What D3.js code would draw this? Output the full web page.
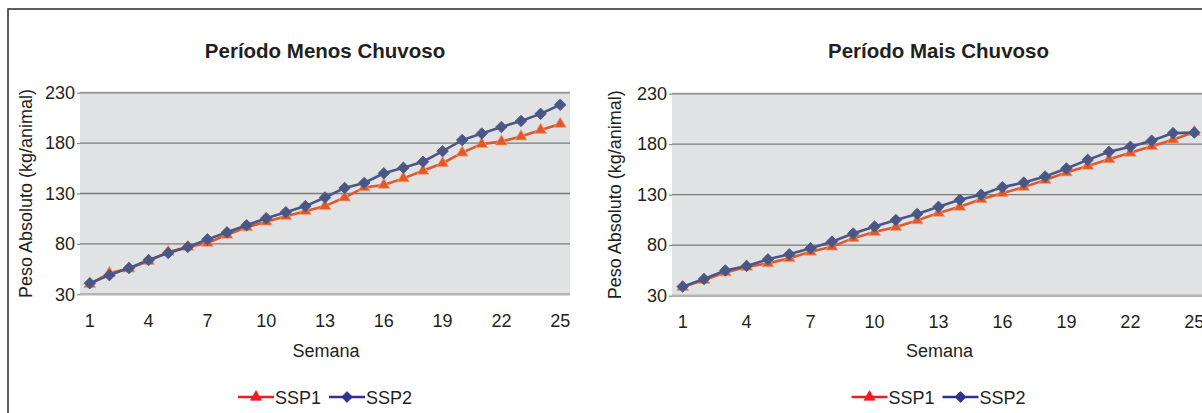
<!DOCTYPE html>
<html><head><meta charset="utf-8">
<script src="https://cdn.jsdelivr.net/npm/d3@7"></script>
<style>
html,body{margin:0;padding:0;background:#fff;}
svg{display:block;font-family:"Liberation Sans",Arial,sans-serif;}
</style></head>
<body>
<svg id="c" width="1202" height="413"></svg>
<script>
const weeks = d3.range(1, 26);
const xTickLabels = [1, 4, 7, 10, 13, 16, 19, 22, 25];
const yTicks = [30, 80, 130, 180, 230];
const seriesNames = ["SSP1", "SSP2"];
const titles = ["Período Menos Chuvoso", "Período Mais Chuvoso"];
const xTitle = "Semana";
const yTitle = "Peso Absoluto (kg/animal)";

const menosSSP1 = [40, 51, 55.5, 63, 72, 77, 81, 89, 96.5, 102, 107.5, 112.5, 117.5, 126, 136, 138.5, 145, 152.5, 160, 170.5, 179, 181.5, 186.5, 193, 199];
const menosSSP2 = [41, 49, 56, 64, 71, 77, 84.5, 91.5, 98.5, 105.5, 111.5, 117.5, 126, 135.5, 140.5, 150, 155.5, 161.5, 172, 183, 189.5, 196, 202, 209, 218];
const maisSSP1 = [38.5, 45.5, 53, 58.5, 62, 67, 73.5, 78.5, 87, 93, 98, 104.5, 112, 118, 125.5, 131.5, 137.5, 144.5, 152, 158.5, 165, 171.5, 178, 184.5, 192];
const maisSSP2 = [39, 46.5, 55, 59.5, 66, 71, 77, 83.5, 91.5, 98.5, 105, 111, 118, 125, 130, 137.5, 142, 148, 156, 164.5, 172.5, 177.5, 183.5, 191, 191.5];

const panels = [
  {title: titles[0], data: [menosSSP1, menosSSP2], x0: 80, x1: 570, y0: 92.7, y1: 294.3, ylabX: 26},
  {title: titles[1], data: [maisSSP1, maisSSP2], x0: 672, x1: 1205, y0: 93.7, y1: 295.7, ylabX: 615}
];

const plotColors = ["#e0582b", "#4a5786"];
const plotStroke = ["#f0a070", "#4a5786"];
const legendColors = ["#ed1c24", "#2e3192"];
const textColor = "#231f20";

const svg = d3.select("#c");

// outer frame
svg.append("rect").attr("x", 8).attr("y", 9).attr("width", 1230).attr("height", 430)
  .attr("fill", "none").attr("stroke", "#2b2b2b").attr("stroke-width", 1.5);

const diamond = d3.symbol().type(d3.symbolSquare).size(66);
const triangle = d3.symbol().type(d3.symbolTriangle).size(60);
const diamondL = d3.symbol().type(d3.symbolSquare).size(58);
const triangleL = d3.symbol().type(d3.symbolTriangle).size(52);

function drawMarker(g, i, color, stroke, legend) {
  if (i === 0) {
    return g.append("path").attr("d", (legend ? triangleL : triangle)()).attr("fill", color)
      .attr("stroke", stroke).attr("stroke-width", 0.8);
  } else {
    return g.append("path").attr("d", (legend ? diamondL : diamond)()).attr("transform", "rotate(45)")
      .attr("fill", color).attr("stroke", stroke).attr("stroke-width", 0.8);
  }
}

panels.forEach(p => {
  const g = svg.append("g");
  const x = d3.scaleBand().domain(weeks).range([p.x0, p.x1]);
  const y = d3.scaleLinear().domain([30, 230]).range([p.y1, p.y0]);
  const cx = d => x(d) + x.bandwidth() / 2;

  g.append("rect").attr("x", p.x0).attr("y", p.y0).attr("width", p.x1 - p.x0).attr("height", p.y1 - p.y0)
    .attr("fill", "#e1e2e4");

  // gridlines
  g.selectAll("line.grid").data(yTicks).join("line")
    .attr("x1", p.x0).attr("x2", p.x1)
    .attr("y1", d => y(d)).attr("y2", d => y(d))
    .attr("stroke", d => (d === 30 ? "#b4b4b4" : (d === 230 ? "#9a9a9a" : "#7a7a7a")))
    .attr("stroke-width", d => (d === 30 ? 2.5 : (d === 230 ? 2 : 1.3)));

  // y axis labels with short ticks
  const yAxis = d3.axisLeft(y).tickValues(yTicks).tickSize(3).tickPadding(2);
  const ya = g.append("g").attr("transform", `translate(${p.x0},0)`).call(yAxis);
  ya.select(".domain").remove();
  ya.selectAll(".tick line").attr("stroke", "#8a8a8a").attr("stroke-width", 1.2);
  ya.selectAll("text").attr("font-size", 18).attr("fill", textColor)
    .attr("font-family", "'Liberation Sans',Arial,sans-serif");

  // x axis labels
  const xAxis = d3.axisBottom(x).tickValues(xTickLabels).tickSize(0).tickPadding(0);
  const xa = g.append("g").attr("transform", `translate(0,${p.y1 + 20})`).call(xAxis);
  xa.select(".domain").remove();
  xa.selectAll("text").attr("font-size", 18).attr("fill", textColor)
    .attr("font-family", "'Liberation Sans',Arial,sans-serif");

  // title
  g.append("text").attr("x", (p.x0 + p.x1) / 2).attr("y", 58).attr("text-anchor", "middle")
    .attr("font-size", 20.5).attr("font-weight", "bold").attr("fill", textColor).text(p.title);

  // x title
  g.append("text").attr("x", (p.x0 + p.x1) / 2 + 1).attr("y", 357).attr("text-anchor", "middle")
    .attr("font-size", 18).attr("fill", textColor).text(xTitle);

  // y title
  g.append("text").attr("transform", `translate(${p.ylabX + 6},${(p.y0 + p.y1) / 2}) rotate(-90)`)
    .attr("text-anchor", "middle").attr("font-size", 18).attr("fill", textColor).text(yTitle);

  // series
  const line = d3.line().x((d, i) => cx(weeks[i])).y(d => y(d));
  p.data.forEach((vals, si) => {
    const sg = g.append("g");
    sg.append("path").datum(vals).attr("d", line).attr("fill", "none")
      .attr("stroke", plotColors[si]).attr("stroke-width", 2.6);
    vals.forEach((v, i) => {
      const mg = sg.append("g").attr("transform", `translate(${cx(weeks[i])},${y(v)})`);
      drawMarker(mg, si, plotColors[si], plotStroke[si], false);
    });
  });

  // legend
  const lg = g.append("g").attr("transform", `translate(${(p.x0 + p.x1) / 2 - 87},397)`);
  let off = 0;
  seriesNames.forEach((name, si) => {
    const it = lg.append("g").attr("transform", `translate(${off},0)`);
    it.append("line").attr("x1", 0).attr("x2", 36).attr("y1", 0).attr("y2", 0)
      .attr("stroke", legendColors[si]).attr("stroke-width", 2.6);
    const mg = it.append("g").attr("transform", "translate(18,0)");
    drawMarker(mg, si, legendColors[si], legendColors[si], true);
    it.append("text").attr("x", 37).attr("y", 6.5).attr("font-size", 18).attr("fill", textColor).text(name);
    off += 91;
  });
});
</script>
</body></html>
